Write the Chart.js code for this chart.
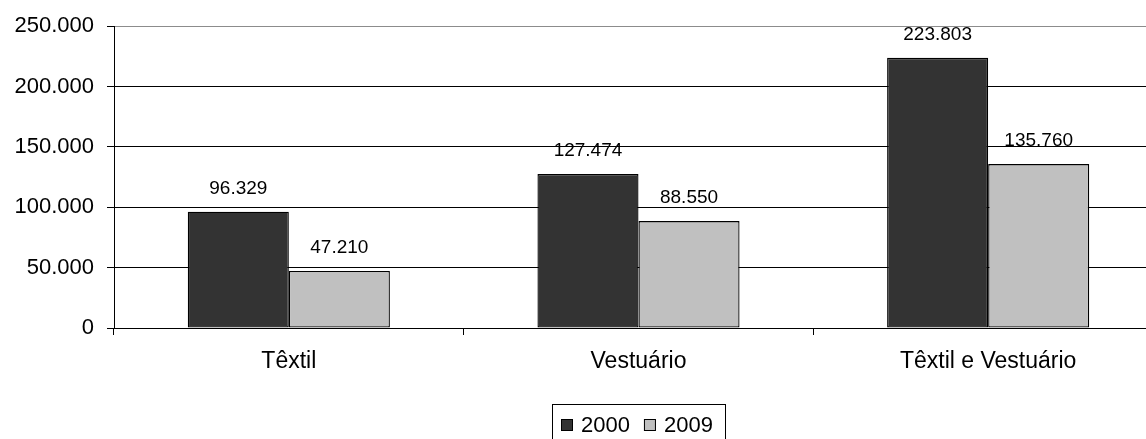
<!DOCTYPE html>
<html>
<head>
<meta charset="utf-8">
<script src="https://cdn.jsdelivr.net/npm/chart.js@4.4.1/dist/chart.umd.min.js"></script>
<style>
  html, body { margin: 0; padding: 0; background: #fff; overflow: hidden; }
  #wrap { width: 1146px; height: 439px; overflow: hidden; position: relative; }
  #box { width: 1170px; height: 450px; position: absolute; left: 0; top: 0; }
</style>
</head>
<body>
<div id="wrap"><div id="box"><canvas id="c"></canvas></div></div>
<script>
// Employment in the textile and clothing sectors, 2000 vs 2009
const categories = ['Têxtil', 'Vestuário', 'Têxtil e Vestuário'];
const seriesNames = ['2000', '2009'];
const values2000 = [96329, 127474, 223803];
const values2009 = [47210, 88550, 135760];
const yTickLabels = ['0', '50.000', '100.000', '150.000', '200.000', '250.000'];

const FONT = "'Liberation Sans', Arial, sans-serif";

// thousands separator with a dot
function fmt(v) {
  return String(v).replace(/\B(?=(\d{3})+(?!\d))/g, '.');
}

// value labels above each bar
const valueLabels = {
  id: 'valueLabels',
  afterDatasetsDraw(chart) {
    const ctx = chart.ctx;
    ctx.save();
    ctx.font = '19px ' + FONT;
    ctx.fillStyle = '#000';
    ctx.textAlign = 'center';
    ctx.textBaseline = 'alphabetic';
    chart.data.datasets.forEach((ds, di) => {
      const meta = chart.getDatasetMeta(di);
      meta.data.forEach((bar, i) => {
        ctx.fillText(fmt(ds.data[i]), bar.x, bar.y - 18);
      });
    });
    ctx.restore();
  }
};

// boxed legend under the plot
const boxedLegend = {
  id: 'boxedLegend',
  afterDraw(chart) {
    const ctx = chart.ctx;
    const area = chart.chartArea;
    ctx.save();
    ctx.font = '22px ' + FONT;
    const sq = 12, gapText = 8, gapItem = 14, padL = 9, padR = 12;
    const items = chart.data.datasets.map(ds => ({
      label: ds.label, fill: ds.backgroundColor, w: ctx.measureText(ds.label).width
    }));
    let total = padL + padR;
    items.forEach((it, i) => { total += sq + gapText + it.w + (i < items.length - 1 ? gapItem : 0); });
    const cx = (area.left + area.right) / 2;
    const left = Math.round(cx - total / 2);
    const top = 404;
    ctx.strokeStyle = '#000';
    ctx.lineWidth = 1;
    ctx.strokeRect(left + 0.5, top + 0.5, Math.round(total), 40);
    let x = left + padL;
    items.forEach(it => {
      ctx.fillStyle = it.fill;
      ctx.fillRect(x, 419, sq, sq);
      ctx.strokeRect(x + 0.5, 419.5, sq - 1, sq - 1);
      x += sq + gapText;
      ctx.fillStyle = '#000';
      ctx.textAlign = 'left';
      ctx.textBaseline = 'alphabetic';
      ctx.fillText(it.label, x, 432);
      x += it.w + gapItem;
    });
    ctx.restore();
  }
};

new Chart(document.getElementById('c'), {
  type: 'bar',
  data: {
    labels: categories,
    datasets: [
      { label: seriesNames[0], data: values2000, backgroundColor: '#333333', borderColor: '#000', borderWidth: 1.3,
        borderSkipped: false, categoryPercentage: 0.578, barPercentage: 1 },
      { label: seriesNames[1], data: values2009, backgroundColor: '#c0c0c0', borderColor: '#000', borderWidth: 1.3,
        borderSkipped: false, categoryPercentage: 0.578, barPercentage: 1 }
    ]
  },
  options: {
    responsive: true,
    maintainAspectRatio: false,
    animation: false,
    layout: { padding: { left: 0, right: 7, top: 24, bottom: 72 } },
    plugins: { legend: { display: false }, tooltip: { enabled: false } },
    scales: {
      x: {
        grid: { offset: true, drawOnChartArea: false, drawTicks: true, tickLength: 7, color: '#000', lineWidth: 1 },
        border: { color: '#000', width: 1 },
        ticks: { color: '#000', font: { family: FONT, size: 23 }, padding: 13, maxRotation: 0 },
        afterFit(s) { s.height = 50; }
      },
      y: {
        min: 0,
        max: 250000,
        ticks: {
          stepSize: 50000,
          color: '#000',
          font: { family: FONT, size: 22 },
          padding: 13,
          callback: (v, i) => yTickLabels[i]
        },
        grid: {
          color: c => (c.tick && c.tick.value === 250000 ? '#8c8c8c' : '#000'),
          tickColor: '#000',
          tickLength: 7,
          lineWidth: 1
        },
        border: { color: '#000', width: 1 },
        afterFit(s) { s.width = 114; }
      }
    }
  },
  plugins: [valueLabels, boxedLegend]
});
</script>
</body>
</html>
